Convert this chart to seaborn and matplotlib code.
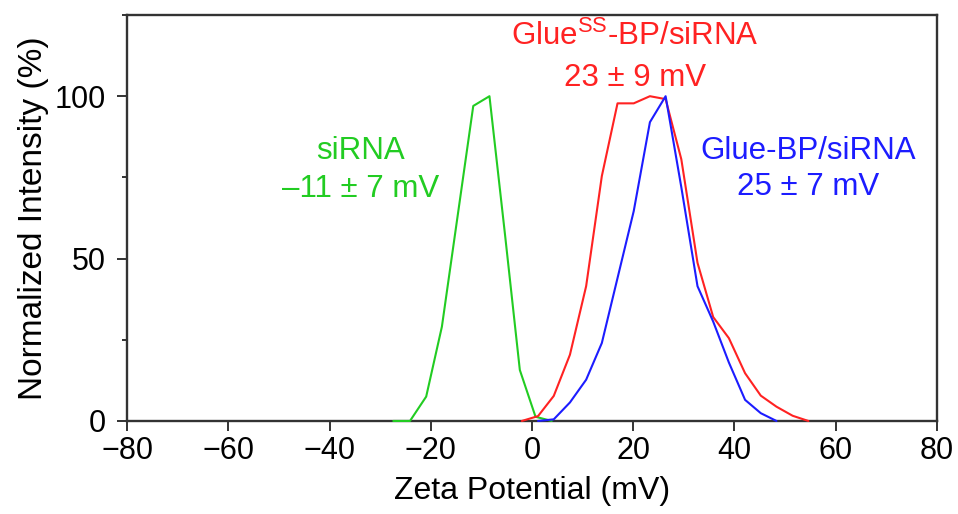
import matplotlib
matplotlib.use("Agg")
import matplotlib.pyplot as plt
from matplotlib.ticker import MultipleLocator
import seaborn as sns
import pandas as pd

# Zeta potential distributions (normalized intensity, %)
sirna_mv = [-27.4, -24.1, -20.9, -17.8, -14.7, -11.6, -8.4, -5.3, -2.4, 0.7, 3.9]
sirna_int = [0, 0, 7.5, 29, 63, 97, 100, 57, 15.7, 1.3, 0]

gluess_mv = [-2.0, 1.2, 4.3, 7.5, 10.7, 13.8, 16.9, 20.1, 23.3, 26.4, 29.5,
             32.7, 35.8, 38.9, 42.1, 45.2, 48.3, 51.5, 54.6]
gluess_int = [0, 1.5, 7.7, 20.4, 41.5, 75.4, 97.8, 97.8, 100, 99.1, 80.6,
              48.7, 32, 25.5, 14.7, 7.8, 4.4, 1.6, 0]

glue_mv = [1.2, 4.3, 7.5, 10.7, 13.8, 16.9, 20.1, 23.3, 26.4, 29.5, 32.7,
           35.8, 38.9, 42.1, 45.2, 48.3]
glue_int = [0, 0.5, 5.7, 12.7, 24, 44, 64.6, 92, 100, 72, 41.5,
            30.6, 18, 6.5, 2.4, 0]

x_ticks = [-80, -60, -40, -20, 0, 20, 40, 60, 80]
y_ticks = [0, 50, 100]

GREEN = "#22cc22"
RED = "#ff2222"
BLUE = "#1c1cff"

sns.set_theme(style="ticks")
plt.rcParams["font.family"] = ["Liberation Sans", "DejaVu Sans"]
plt.rcParams["mathtext.fontset"] = "custom"
plt.rcParams["mathtext.rm"] = "Liberation Sans"
plt.rcParams["text.color"] = "black"
plt.rcParams["axes.labelcolor"] = "black"

fig = plt.figure(figsize=(9.58, 5.14), dpi=100)
ax = fig.add_axes([0.1326, 0.181, 0.8454, 0.7898])

curves = [
    (sirna_mv, sirna_int, GREEN),
    (gluess_mv, gluess_int, RED),
    (glue_mv, glue_int, BLUE),
]
for xs, ys, col in curves:
    df = pd.DataFrame({"mv": xs, "intensity": ys})
    sns.lineplot(data=df, x="mv", y="intensity", color=col, linewidth=1.5,
                 sort=False, estimator=None, ax=ax, zorder=5, clip_on=False)

ax.set_xlim(-80, 80)
ax.set_ylim(0, 125)
ax.set_xticks(x_ticks)
ax.set_yticks(y_ticks)
ax.yaxis.set_minor_locator(MultipleLocator(25))
ax.tick_params(axis="both", which="major", direction="out", length=7,
               width=1.4, color="#333333", labelcolor="black",
               labelsize=22, pad=4)
ax.tick_params(axis="y", which="major", pad=8)
ax.tick_params(axis="y", which="minor", direction="out", length=3.5,
               width=1.4, color="#333333")
for side in ["left", "right", "top", "bottom"]:
    ax.spines[side].set_visible(True)
    ax.spines[side].set_color("#333333")
    ax.spines[side].set_linewidth(1.7)

ax.set_xlabel("Zeta Potential (mV)", fontsize=23, labelpad=7)
ax.set_ylabel("Normalized Intensity (%)", fontsize=24, labelpad=4)

fs = 22.5
ax.text(-33.9, 83, "siRNA", color=GREEN, fontsize=fs, ha="center", va="center")
ax.text(-33.9, 71.5, "\u201311 \u00b1 7 mV", color=GREEN, fontsize=fs,
        ha="center", va="center")
ax.text(20.3, 118.5, r"Glue$^{\mathrm{SS}}$-BP/siRNA", color=RED, fontsize=fs,
        ha="center", va="center")
ax.text(20.3, 105.5, "23 \u00b1 9 mV", color=RED, fontsize=fs,
        ha="center", va="center")
ax.text(54.5, 83, "Glue-BP/siRNA", color=BLUE, fontsize=fs,
        ha="center", va="center")
ax.text(54.5, 72, "25 \u00b1 7 mV", color=BLUE, fontsize=fs,
        ha="center", va="center")

fig.savefig("out.png", dpi=100)
